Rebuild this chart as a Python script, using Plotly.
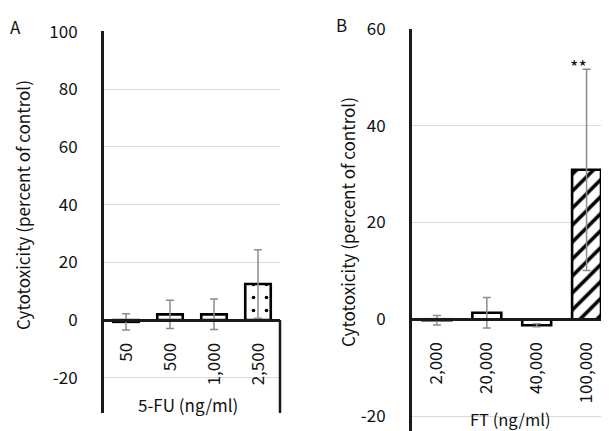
import plotly.graph_objects as go

# Panel A: 5-FU
a_cats = ["50", "500", "1,000", "2,500"]
a_vals = [-0.6, 2.0, 2.0, 12.5]
a_errs = [2.8, 4.9, 5.3, 11.9]
a_patterns = ["", "", "", "."]
a_yticks = [-20, 0, 20, 40, 60, 80, 100]
a_range = [-32.2, 100.2]

# Panel B: FT
b_cats = ["2,000", "20,000", "40,000", "100,000"]
b_vals = [-0.2, 1.35, -1.25, 30.9]
b_errs = [1.0, 3.15, 0.3, 20.8]
b_patterns = ["", "", "", "/"]
b_yticks = [-20, 0, 20, 40, 60]
b_range = [-23.1, 60.0]

FONT = "Noto Sans CJK JP"
ytitle = "Cytotoxicity (percent of control)"

# page body has an 8px margin; compensate so that screen pixels match
OFF = 8
W, H = 609 - OFF, 431 - OFF

def px_x(x):
    return (x - OFF) / W

def px_y(y):
    return (H - (y - OFF)) / H

a_xdom = [px_x(104), px_x(280)]
a_ydom = [px_y(413), px_y(31)]
b_xdom = [px_x(412), 1.0]
b_ydom = [0.0, px_y(29)]

def zero_pos(dom, rng):
    return dom[0] + (0 - rng[0]) / (rng[1] - rng[0]) * (dom[1] - dom[0])

fig = go.Figure()

def add_bars(cats, vals, errs, pats, xa, ya, psize, psol):
    fig.add_trace(go.Bar(
        x=cats, y=vals, xaxis=xa, yaxis=ya, width=0.58,
        marker=dict(color="white",
                    line=dict(color="black", width=2.6),
                    pattern=dict(shape=pats, fgcolor="black", bgcolor="white",
                                 fgopacity=1, size=psize, solidity=psol,
                                 fillmode="replace")),
        error_y=dict(type="data", array=errs, visible=True,
                     color="#8c8c8c", thickness=1.5, width=4),
        showlegend=False, hoverinfo="skip",
    ))

add_bars(a_cats, a_vals, a_errs, a_patterns, "x", "y", 13, 0.06)
add_bars(b_cats, b_vals, b_errs, b_patterns, "x2", "y2", 12, 0.3)

axis_font = dict(family=FONT, size=17, color="#111111")

fig.update_layout(
    width=W, height=H,
    margin=dict(l=0, r=0, t=0, b=0, autoexpand=False),
    paper_bgcolor="white", plot_bgcolor="white",
    font=dict(family=FONT),
    xaxis=dict(domain=a_xdom, anchor="free", position=zero_pos(a_ydom, a_range),
               type="category", range=[-0.5, 3.5], showline=True, linecolor="#1a1a1a",
               linewidth=3, tickangle=-90, tickfont=axis_font, ticks="",
               ticklabelstandoff=14, showgrid=False, zeroline=False, automargin=False),
    yaxis=dict(domain=a_ydom, anchor="x", range=a_range, tickvals=a_yticks,
               ticktext=[str(v) for v in a_yticks],
               showline=True, linecolor="#1a1a1a", linewidth=3,
               showgrid=True, gridcolor="#d9d9d9", gridwidth=1, zeroline=False,
               tickfont=axis_font, ticks="", ticklabelstandoff=20, automargin=False),
    xaxis2=dict(domain=b_xdom, anchor="free", position=zero_pos(b_ydom, b_range),
                type="category", range=[-0.5, 3.45], showline=True, linecolor="#1a1a1a",
                linewidth=3, tickangle=-90, tickfont=axis_font, ticks="",
                ticklabelstandoff=14, showgrid=False, zeroline=False, automargin=False),
    yaxis2=dict(domain=b_ydom, anchor="x2", range=b_range, tickvals=b_yticks,
                ticktext=[str(v) for v in b_yticks],
                showline=True, linecolor="#1a1a1a", linewidth=3,
                showgrid=True, gridcolor="#d9d9d9", gridwidth=1, zeroline=False,
                tickfont=axis_font, ticks="", ticklabelstandoff=20, automargin=False),
)

# right border of category area in panel A
fig.add_shape(type="line", xref="x domain", yref="y", x0=1, x1=1,
              y0=0, y1=a_range[0], line=dict(color="#1a1a1a", width=2.5))

def ann(text, x, y, size, angle=0):
    return dict(text=text, x=px_x(x), y=px_y(y), xref="paper", yref="paper",
                xanchor="center", yanchor="middle", textangle=angle,
                showarrow=False, font=dict(family=FONT, size=size, color="#111111"))

annotations = [
    ann("A", 15, 27, 17),
    ann("B", 342, 25, 17),
    ann(ytitle, 22, 205, 17, -90),
    ann(ytitle, 347, 222, 17, -90),
    ann("5-FU (ng/ml)", 188, 404, 17),
    ann("FT (ng/ml)", 510, 419, 16.5),
    dict(text="**", x=b_cats[3], y=b_vals[3] + b_errs[3], xref="x2", yref="y2",
         xshift=-8, yshift=-12, xanchor="center", yanchor="bottom", showarrow=False,
         font=dict(family=FONT, size=18, color="#111111")),
]
fig.update_layout(annotations=annotations)

fig.write_html("out.html")
